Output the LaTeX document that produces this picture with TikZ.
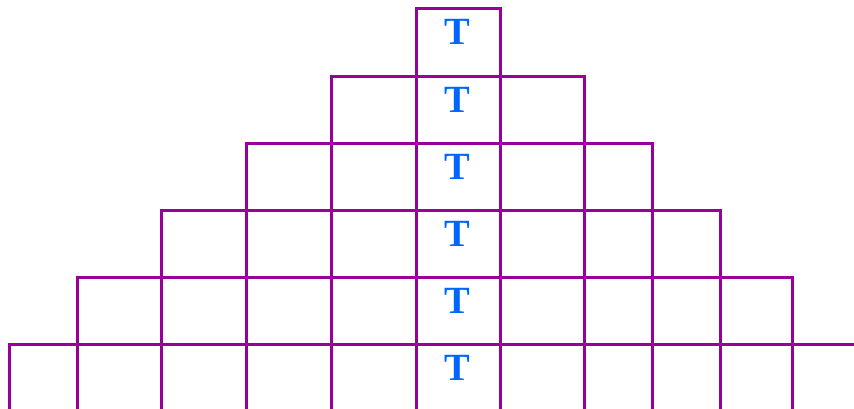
\documentclass[tikz,border=0pt]{standalone}
\usepackage{fontspec}
\setmainfont{Liberation Serif}
\definecolor{gridpurple}{HTML}{990099}
\definecolor{tblue}{HTML}{0066FF}
\begin{document}
\begin{tikzpicture}[x=1pt,y=-1pt,
  gridline/.style={draw=gridpurple,line width=3pt,line cap=butt,line join=miter},
  tlabel/.style={text=tblue,font=\bfseries\fontsize{38.5}{38.5}\selectfont,anchor=base,inner sep=0pt}]
\useasboundingbox (0,0) rectangle (854,408);
% x positions of vertical lines
\def\xa{9.3}\def\xb{77.3}\def\xc{161.5}\def\xd{246.5}\def\xe{331.5}\def\xf{416}
\def\xg{500.5}\def\xh{584.5}\def\xi{652.5}\def\xj{720}\def\xk{792.5}
% row tops
\def\ya{8.3}\def\yb{76.3}\def\yc{143.3}\def\yd{210.3}\def\ye{277.3}\def\yf{344.3}
% row 1
\draw[gridline] (\xf,\yb) -- (\xf,\ya) -- (\xg,\ya) -- (\xg,\yb);
% row 2
\draw[gridline] (\xe,\yc) -- (\xe,\yb) -- (\xh,\yb) -- (\xh,\yc);
\foreach \x in {\xf,\xg} \draw[gridline] (\x,\yb) -- (\x,\yc);
% row 3
\draw[gridline] (\xd,\yd) -- (\xd,\yc) -- (\xi,\yc) -- (\xi,\yd);
\foreach \x in {\xe,\xf,\xg,\xh} \draw[gridline] (\x,\yc) -- (\x,\yd);
% row 4
\draw[gridline] (\xc,\ye) -- (\xc,\yd) -- (\xj,\yd) -- (\xj,\ye);
\foreach \x in {\xd,\xe,\xf,\xg,\xh,\xi} \draw[gridline] (\x,\yd) -- (\x,\ye);
% row 5
\draw[gridline] (\xb,\yf) -- (\xb,\ye) -- (\xk,\ye) -- (\xk,\yf);
\foreach \x in {\xc,\xd,\xe,\xf,\xg,\xh,\xi,\xj} \draw[gridline] (\x,\ye) -- (\x,\yf);
% row 6 (open at bottom and right)
\draw[gridline] (\xa,410) -- (\xa,\yf) -- (856,\yf);
\foreach \x in {\xb,\xc,\xd,\xe,\xf,\xg,\xh,\xi,\xj,\xk} \draw[gridline] (\x,\yf) -- (\x,410);
% labels
\node[tlabel] (t1) at (457.8,\ya+36.5) {T};
\node[tlabel] (t2) at (457.8,\yb+36) {T};
\node[tlabel] (t3) at (457.8,\yc+36) {T};
\node[tlabel] (t4) at (457.8,\yd+36) {T};
\node[tlabel] (t5) at (457.8,\ye+36) {T};
\node[tlabel] (t6) at (457.8,\yf+36) {T};
\end{tikzpicture}
\end{document}
